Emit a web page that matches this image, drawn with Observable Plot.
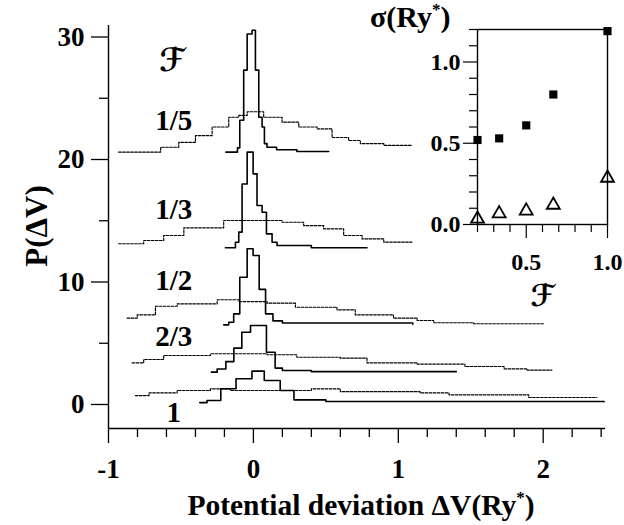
<!DOCTYPE html>
<html><head><meta charset="utf-8">
<script src="https://cdn.jsdelivr.net/npm/d3@7"></script>
<script src="https://cdn.jsdelivr.net/npm/@observablehq/plot@0.6"></script>
<style>
body{margin:0;background:#fff;}
#wrap{position:relative;width:624px;height:525px;background:#fff;}
#wrap svg{position:absolute;left:0;top:0;overflow:visible;}
</style></head><body><div id="wrap"></div>
<script>
// ---------- data ----------
const fractions = ["1/5", "1/3", "1/2", "2/3", "1"];

// narrow (solid) histograms: [ΔV bin edge, P(ΔV) incl. vertical offset], step-after
const solid_1_5 = [[-0.19,20.6],[-0.11,20.95],[-0.094,23.2],[-0.067,27.3],[-0.043,30.25],[-0.009,30.55],[0.014,27.3],[0.037,23.45],[0.06,22.65],[0.076,21.3],[0.094,21.0],[0.16,20.8],[0.3,20.65],[0.52,20.65]];
const solid_1_3 = [[-0.193,12.8],[-0.124,13.25],[-0.101,14.07],[-0.078,18.0],[-0.043,20.6],[-0.002,18.83],[0.025,16.24],[0.06,15.7],[0.09,13.93],[0.129,13.25],[0.163,12.98],[0.4,12.8],[0.784,12.8]];
const solid_1_2 = [[-0.205,6.5],[-0.17,6.72],[-0.136,7.4],[-0.094,10.39],[-0.043,12.71],[-0.002,12.16],[0.04,9.4],[0.084,7.4],[0.135,6.83],[0.2,6.65],[1.1,6.55]];
const solid_2_3 = [[-0.29,2.64],[-0.25,2.9],[-0.19,3.5],[-0.135,4.6],[-0.08,5.9],[-0.02,6.45],[0.09,4.27],[0.15,2.97],[0.2,2.78],[0.4,2.68],[1.4,2.68]];
const solid_1   = [[-0.37,0.15],[-0.32,0.33],[-0.225,1.28],[-0.12,2.1],[-0.01,2.72],[0.075,1.96],[0.185,1.14],[0.28,0.38],[0.5,0.25],[2.42,0.22]];

// wide (dashed) histograms
const dashed_1_5 = [[-0.93,20.6],[-0.64,21.0],[-0.515,21.4],[-0.4,21.95],[-0.285,22.65],[-0.17,23.45],[-0.1,23.6],[-0.043,23.9],[0.071,23.45],[0.198,23.05],[0.313,22.65],[0.44,22.5],[0.543,21.8],[0.657,21.55],[0.738,21.3],[0.9,21.15],[1.094,21.15]];
const dashed_1_3 = [[-0.93,13.12],[-0.757,13.39],[-0.619,13.8],[-0.48,14.42],[-0.205,15.02],[0.198,14.88],[0.347,14.6],[0.485,14.34],[0.623,13.8],[0.75,13.52],[0.9,13.25],[1.094,13.25]];
const dashed_1_2 = [[-0.871,7.05],[-0.802,7.32],[-0.676,8.02],[-0.526,8.22],[-0.25,8.55],[-0.1,8.4],[0.094,8.27],[0.29,7.94],[0.577,7.73],[0.703,7.32],[0.967,7.05],[1.13,6.86],[1.244,6.67],[1.52,6.59],[2.01,6.59]];
const dashed_2_3 = [[-0.837,3.4],[-0.757,3.67],[-0.619,4.0],[-0.297,4.14],[0.094,4.06],[0.3,3.86],[0.6,3.78],[0.784,3.4],[1.13,3.3],[1.46,3.1],[1.73,2.91],[1.89,2.8],[2.06,2.8]];
const dashed_1   = [[-0.814,0.73],[-0.72,0.95],[-0.526,1.14],[-0.297,1.28],[-0.159,1.14],[0.4,1.28],[0.6,1.05],[1.15,0.95],[1.35,0.79],[1.9,0.57],[2.37,0.57]];

// main axis ticks
const xMajor = [-1, 0, 1, 2];
const xMinor = [-0.8,-0.6,-0.4,-0.2,0.2,0.4,0.6,0.8,1.2,1.4,1.6,1.8,2.2,2.4];
const yMajor = [0, 10, 20, 30];
const yMinor = [5, 15, 25];

// inset: sigma vs filling fraction
const insetF = [0.2, 1/3, 0.5, 2/3, 1.0];
const sigmaWide = [0.52, 0.53, 0.61, 0.80, 1.19];     // filled squares
const sigmaNarrow = [0.034, 0.067, 0.084, 0.12, 0.286]; // open triangles
const insetXMajor = [0.5, 1.0];
const insetXMinor = [0.2,0.3,0.4,0.6,0.7,0.8,0.9];
const insetYMajor = [0, 0.5, 1.0];
const insetYMinor = [0.1,0.2,0.3,0.4,0.6,0.7,0.8,0.9,1.1,1.2];

// ---------- build ----------
const solids = [solid_1_5, solid_1_3, solid_1_2, solid_2_3, solid_1];
const dasheds = [dashed_1_5, dashed_1_3, dashed_1_2, dashed_2_3, dashed_1];
const toRows = (arrs) => arrs.flatMap((a, i) => a.map(([x, y]) => ({x, y, s: fractions[i]})));
const solidRows = toRows(solids);
const dashedRows = toRows(dasheds);

const FONT = "'Liberation Serif','Times New Roman',serif";
const labelYs = [23.2, 15.9, 10.1, 5.5, -0.7];
const labelRows = fractions.map((f, i) => ({t: f, y: labelYs[i]}));

const main = Plot.plot({
  width: 624, height: 525,
  marginLeft: 108, marginRight: 19, marginTop: 25, marginBottom: 97,
  x: {domain: [-1, 2.43]},
  y: {domain: [-1.96, 30.94]},
  style: {fontFamily: FONT, fontWeight: "bold", fontSize: "27px", background: "white", color: "black"},
  marks: [
    Plot.ruleX([-1], {strokeWidth: 1.4}),
    Plot.ruleY([-1.96], {strokeWidth: 1.4}),
    Plot.axisX({ticks: xMinor, tickSize: 9, tickFormat: () => "", label: null, strokeWidth: 1.3}),
    Plot.axisX({ticks: xMajor, tickSize: 15, tickPadding: 15, label: null, strokeWidth: 1.3,
      tickFormat: d => d < 0 ? "-" + Math.abs(d) : String(d)}),
    Plot.axisY({ticks: yMinor, tickSize: 9, tickFormat: () => "", label: null, strokeWidth: 1.3}),
    Plot.axisY({ticks: yMajor, tickSize: 17, tickPadding: 7, label: null, strokeWidth: 1.3}),
    Plot.line(dashedRows, {x: "x", y: "y", z: "s", curve: "step-after", stroke: "black", strokeWidth: 1.15, strokeDasharray: "2.6,1.4"}),
    Plot.line(solidRows, {x: "x", y: "y", z: "s", curve: "step-after", stroke: "black", strokeWidth: 1.6}),
    Plot.text(labelRows, {x: () => -0.55, y: "y", text: "t", fontSize: 29, fontWeight: "bold"}),
    Plot.text(["\u2131"], {x: () => -0.56, y: () => 28.1, fontSize: 32, fontStyle: "italic", fontFamily: "'DejaVu Serif','DejaVu Sans',serif"})
  ]
});

const inset = Plot.plot({
  width: 624, height: 525,
  marginLeft: 477, marginRight: 17, marginTop: 29, marginBottom: 301,
  x: {domain: [0.2, 1.0]},
  y: {domain: [0, 1.2]},
  style: {fontFamily: FONT, fontWeight: "bold", fontSize: "24px", background: "transparent", color: "black"},
  marks: [
    Plot.frame({strokeWidth: 1.4}),
    Plot.axisY({ticks: insetYMinor, tickSize: 8, tickFormat: () => "", label: null, strokeWidth: 1.2}),
    Plot.axisY({ticks: insetYMajor, tickSize: 14, tickPadding: 3, tickFormat: d3.format(".1f"), label: null, strokeWidth: 1.2}),
    Plot.axisX({ticks: insetXMinor, tickSize: 8, tickFormat: () => "", label: null, strokeWidth: 1.2}),
    Plot.axisX({ticks: insetXMajor, tickSize: 14, tickPadding: 14, tickFormat: d3.format(".1f"), label: null, strokeWidth: 1.2}),
    Plot.dot(insetF, {x: d => d, y: (d, i) => sigmaWide[i], symbol: "square", fill: "black", r: 4.6}),
    Plot.dot(insetF, {x: d => d, y: (d, i) => sigmaNarrow[i], symbol: "triangle", stroke: "black", fill: "none", strokeWidth: 1.8, r: 4.8}),
    Plot.text(["\u2131"], {x: () => 0.6, y: () => 0, dy: 72, fontSize: 30, fontStyle: "italic", fontFamily: "'DejaVu Serif','DejaVu Sans',serif"})
  ]
});

const wrap = document.getElementById("wrap");
wrap.appendChild(main);
wrap.appendChild(inset);

// axis titles (text with superscripts)
const svg = d3.select(main);
const xt = svg.append("text").attr("x", 361).attr("y", 515).attr("text-anchor", "middle")
  .attr("font-family", FONT).attr("font-weight", "bold").attr("font-size", 29.5).attr("fill", "black");
xt.append("tspan").text("Potential deviation \u0394V(Ry");
xt.append("tspan").text("*").attr("font-size", 17).attr("dy", -12);
xt.append("tspan").text(")").attr("dy", 12);

svg.append("text").attr("transform", "translate(36,226) rotate(-90)").attr("text-anchor", "middle")
  .attr("dominant-baseline", "central")
  .attr("font-family", FONT).attr("font-weight", "bold").attr("font-size", 31).attr("fill", "black")
  .text("P(\u0394V)");

const isv = d3.select(inset);
const st = isv.append("text").attr("x", 370).attr("y", 27).attr("text-anchor", "start")
  .attr("font-family", FONT).attr("font-weight", "bold").attr("font-size", 30).attr("fill", "black");
st.append("tspan").text("\u03C3(Ry");
st.append("tspan").text("*").attr("font-size", 17).attr("dy", -12);
st.append("tspan").text(")").attr("dy", 12);
</script>
</body></html>
